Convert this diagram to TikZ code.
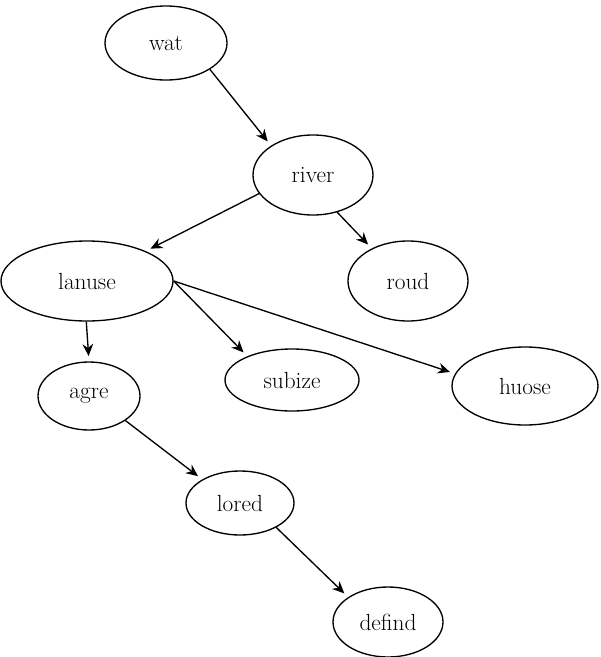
\documentclass[tikz,border=0pt]{standalone}
\usepackage{tikz}
\usetikzlibrary{arrows.meta,shapes.geometric}

\begin{document}
\begin{tikzpicture}[x=0.75pt, y=-0.75pt, >={Stealth[length=9pt,width=8pt]},
    bubble/.style={draw, ellipse, inner sep=0pt, line width=1pt, font=\fontsize{17.5}{21}\selectfont},
    link/.style={->, line width=1pt, shorten >=4pt}]
  \useasboundingbox (0,0) rectangle (600,657);

  % Nodes
  \node[bubble, minimum width=91.5pt, minimum height=55.5pt] (wat) at (166,43) {wat};
  \node[bubble, minimum width=90pt, minimum height=60pt] (river) at (313,175) {river};
  \node[bubble, minimum width=129pt, minimum height=60pt] (lanuse) at (87,281) {lanuse};
  \node[bubble, minimum width=90pt, minimum height=60pt] (roud) at (408,281) {roud};
  \node[bubble, minimum width=76.5pt, minimum height=51pt] (agre) at (89,396) {agre};
  \node[bubble, minimum width=100.5pt, minimum height=46.5pt] (subize) at (292,380) {subize};
  \node[bubble, minimum width=109.5pt, minimum height=58.5pt] (huose) at (525,386) {huose};
  \node[bubble, minimum width=81pt, minimum height=48pt] (lored) at (240,503) {lored};
  \node[bubble, minimum width=82.5pt, minimum height=52.5pt] (defind) at (388,622) {defind};

  % Edges
  \draw[link] (wat.-31) -- (river.145);
  \draw[link] (river.-161) -- (lanuse.27);
  \draw[link] (river.-57) -- (roud.138);
  \draw[link] (lanuse.-91) -- (agre.90);
  \draw[link] (lanuse.east) -- (subize.152);
  \draw[link] (lanuse.east) -- (huose.170);
  \draw[link] (agre.-34) -- (lored.148);
  \draw[link] (lored.-34) -- (defind.148);
\end{tikzpicture}
\end{document}
